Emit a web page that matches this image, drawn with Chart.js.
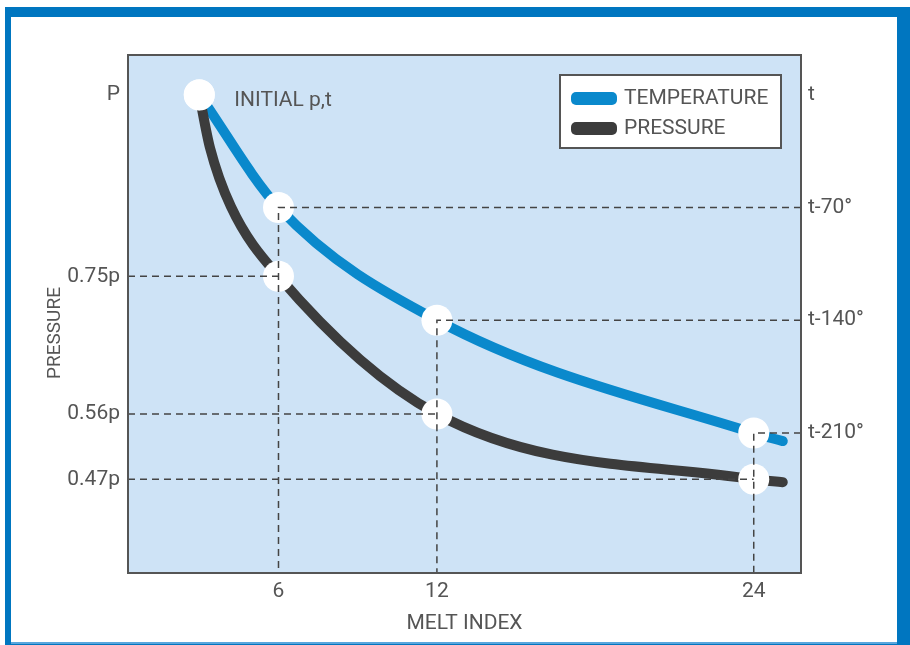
<!DOCTYPE html>
<html>
<head>
<meta charset="utf-8">
<script src="https://cdn.jsdelivr.net/npm/chart.js@4.4.1/dist/chart.umd.min.js"></script>
<style>
    body { margin: 0; background: #ffffff; }
    #marco { position: absolute; left: 5px; top: 7px; width: 905px; height: 638px; background: #0076c0; }
    #interior { position: absolute; left: 11px; top: 17px; width: 886px; height: 625px; background: #ffffff; }
    #linea { position: absolute; left: 11px; top: 642px; width: 886px; height: 2px; background: #5aa6dd; }
    #contenedor { position: absolute; left: 11px; top: 17px; width: 886px; height: 626px; }
</style>
</head>
<body>
<div id="marco"></div>
<div id="interior"></div>
<div id="linea"></div>
<div id="contenedor"><canvas id="graficoMelt"></canvas></div>
<script>
// curvas
const indiceTemp = [3, 6, 12, 24, 25.1];
const temperatura = [0, -70, -140, -210, -215];
const indicePres = [3, 3.4, 4.2, 6, 12, 24, 25.1];
const presion = [1, 0.928, 0.846, 0.75, 0.56, 0.47, 0.466];

// puntos marcados (circulos)
const indiceMarcas = [3, 6, 12, 24];
const tempMarcas = [0, -70, -140, -210];
const presMarcas = [1, 0.75, 0.56, 0.47];

// etiquetas de ejes
const ticksX = [6, 12, 24];
const ticksPres = [1, 0.75, 0.56, 0.47];
const etiquetasPres = ['P', '0.75p', '0.56p', '0.47p'];
const ticksTemp = [0, -70, -140, -210];
const etiquetasTemp = ['t', 't-70°', 't-140°', 't-210°'];

const azul = '#0a89cc';
const oscuro = '#3c3c3c';
const gris = '#555555';
const fuente = { family: 'Roboto', size: 21 };

const aPuntos = (xs, ys) => xs.map((x, i) => ({ x: x, y: ys[i] }));

const fondoPlugin = {
    id: 'fondo',
    beforeDraw(chart) {
        const a = chart.chartArea;
        const ctx = chart.ctx;
        ctx.save();
        ctx.fillStyle = '#cee3f6';
        ctx.fillRect(a.left, a.top, a.right - a.left, a.bottom - a.top);
        ctx.restore();
    },
    afterDraw(chart) {
        const a = chart.chartArea;
        const ctx = chart.ctx;
        ctx.save();
        ctx.strokeStyle = '#555555';
        ctx.lineWidth = 2;
        ctx.strokeRect(a.left, a.top, a.right - a.left, a.bottom - a.top);
        // titulo vertical
        ctx.translate(a.left - 73, (a.top + a.bottom) / 2 + 19);
        ctx.rotate(-Math.PI / 2);
        ctx.fillStyle = gris;
        ctx.font = '19px Roboto';
        ctx.textAlign = 'center';
        ctx.textBaseline = 'middle';
        ctx.fillText('PRESSURE', 0, 0);
        ctx.restore();
    }
};

// lineas punteadas desde los puntos hasta los ejes
const guiasPlugin = {
    id: 'guias',
    afterDatasetsDraw(chart) {
        const a = chart.chartArea;
        const sx = chart.scales.x, sp = chart.scales.y, st = chart.scales.y2;
        const ctx = chart.ctx;
        ctx.save();
        ctx.strokeStyle = '#444444';
        ctx.lineWidth = 1.5;
        ctx.setLineDash([7, 5]);
        for (let i = 1; i < indiceMarcas.length; i++) {
            const px = sx.getPixelForValue(indiceMarcas[i]);
            const pt = st.getPixelForValue(tempMarcas[i]);
            const pp = sp.getPixelForValue(presMarcas[i]);
            ctx.beginPath();
            ctx.moveTo(a.right, pt);
            ctx.lineTo(px, pt);
            ctx.lineTo(px, a.bottom);
            ctx.stroke();
            ctx.beginPath();
            ctx.moveTo(a.left, pp);
            ctx.lineTo(px, pp);
            ctx.stroke();
        }
        ctx.setLineDash([]);
        // texto del punto inicial
        ctx.fillStyle = gris;
        ctx.font = '21px Roboto';
        ctx.textBaseline = 'middle';
        ctx.fillText('INITIAL p,t', sx.getPixelForValue(indiceMarcas[0]) + 35, st.getPixelForValue(tempMarcas[0]) + 6);
        ctx.restore();
    }
};

const leyendaPlugin = {
    id: 'leyenda',
    afterDraw(chart) {
        const a = chart.chartArea;
        const ctx = chart.ctx;
        const series = chart.data.datasets.filter(d => d.label).reverse();
        const w = 221, h = 73;
        const left = a.right - 20 - w, top = a.top + 20;
        ctx.save();
        ctx.fillStyle = '#ffffff';
        ctx.fillRect(left, top, w, h);
        ctx.strokeStyle = '#555555';
        ctx.lineWidth = 2;
        ctx.strokeRect(left, top, w, h);
        ctx.font = '21px Roboto';
        ctx.textBaseline = 'middle';
        series.forEach((d, i) => {
            const y = top + 23 + i * 30;
            ctx.fillStyle = d.borderColor;
            ctx.beginPath();
            ctx.roundRect(left + 11, y - 6, 46, 13, 5);
            ctx.fill();
            ctx.fillStyle = gris;
            ctx.fillText(d.label, left + 64, y + 1);
        });
        ctx.restore();
    }
};

new Chart(document.getElementById('graficoMelt').getContext('2d'), {
    type: 'line',
    data: {
        datasets: [
            {
                data: aPuntos(indiceMarcas, tempMarcas),
                yAxisID: 'y2',
                showLine: false,
                pointRadius: 15.5,
                pointBackgroundColor: '#ffffff',
                pointBorderWidth: 0
            },
            {
                data: aPuntos(indiceMarcas, presMarcas),
                yAxisID: 'y',
                showLine: false,
                pointRadius: 15.5,
                pointBackgroundColor: '#ffffff',
                pointBorderWidth: 0
            },
            {
                label: 'PRESSURE',
                data: aPuntos(indicePres, presion),
                yAxisID: 'y',
                borderColor: oscuro,
                borderWidth: 10,
                borderCapStyle: 'round',
                cubicInterpolationMode: 'monotone',
                pointRadius: 0
            },
            {
                label: 'TEMPERATURE',
                data: aPuntos(indiceTemp, temperatura),
                yAxisID: 'y2',
                borderColor: azul,
                borderWidth: 10,
                borderCapStyle: 'round',
                cubicInterpolationMode: 'monotone',
                pointRadius: 0
            }
        ]
    },
    options: {
        responsive: true,
        maintainAspectRatio: false,
        animation: false,
        events: [],
        layout: { padding: { top: 38, left: 0, right: 0, bottom: 0 } },
        plugins: {
            legend: { display: false },
            tooltip: { enabled: false }
        },
        scales: {
            x: {
                type: 'linear',
                min: 0.3,
                max: 25.79,
                afterBuildTicks: s => { s.ticks = ticksX.map(v => ({ value: v })); },
                afterFit: s => { s.height = 70; },
                grid: { display: false, drawTicks: false, tickLength: 0 },
                border: { display: false },
                ticks: { color: gris, font: fuente, padding: 6 },
                title: { display: true, text: 'MELT INDEX', color: gris, font: fuente, padding: { top: 4, bottom: 7 } }
            },
            y: {
                type: 'linear',
                position: 'left',
                min: 0.3407,
                max: 1.0552,
                afterBuildTicks: s => { s.ticks = ticksPres.map(v => ({ value: v })); },
                afterFit: s => { s.width = 117; },
                grid: { display: false, drawTicks: false, tickLength: 0 },
                border: { display: false },
                ticks: {
                    color: gris, font: fuente, padding: 8,
                    callback: v => etiquetasPres[ticksPres.indexOf(v)]
                }
            },
            y2: {
                type: 'linear',
                position: 'right',
                min: -296.85,
                max: 24.6,
                afterBuildTicks: s => { s.ticks = ticksTemp.map(v => ({ value: v })); },
                afterFit: s => { s.width = 96; },
                grid: { display: false, drawTicks: false, tickLength: 0 },
                border: { display: false },
                ticks: {
                    color: gris, font: fuente, padding: 7,
                    callback: v => etiquetasTemp[ticksTemp.indexOf(v)]
                }
            }
        }
    },
    plugins: [fondoPlugin, guiasPlugin, leyendaPlugin]
});
</script>
</body>
</html>
